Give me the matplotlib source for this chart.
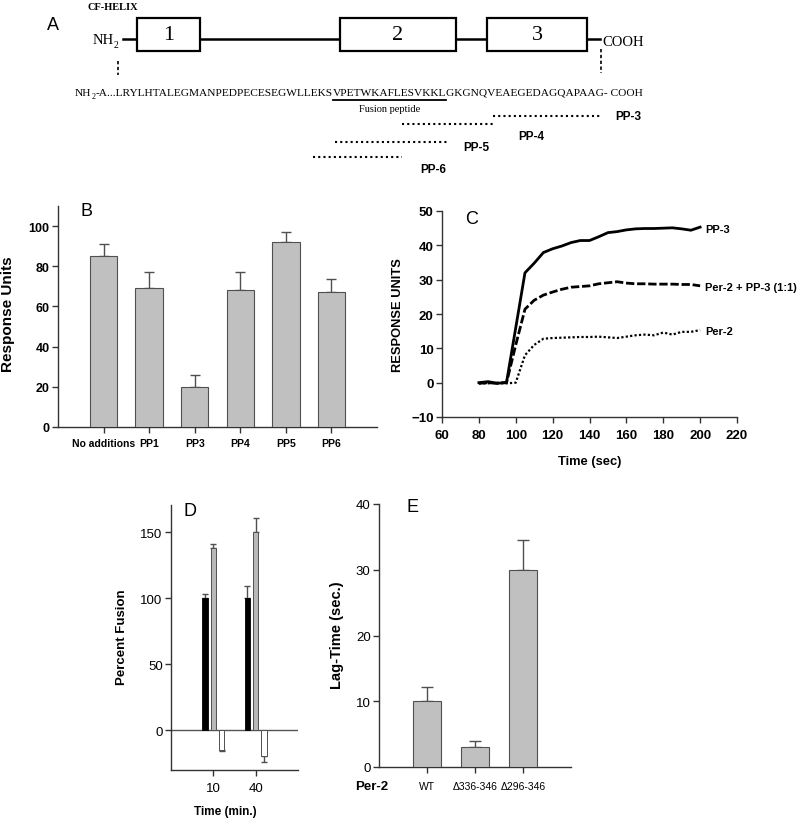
import matplotlib
matplotlib.use('Agg')
import matplotlib.pyplot as plt
from matplotlib.patches import Rectangle

plt.rcParams['font.family'] = ['Liberation Sans', 'DejaVu Sans']
SERIF = ['Liberation Serif', 'DejaVu Serif']

# ---------------- data ----------------
# Panel A (diagram)
domain_labels = ["1", "2", "3"]
pp_names = ["PP-3", "PP-4", "PP-5", "PP-6"]
seq_before = "-A...LRYLHTALEGMANPEDPECESEGWLLEKS"
seq_fusion = "VPETWKAFLESVKKL"
seq_after = "GKGNQVEAEGEDAGQAPAAG- COOH"

# Panel B
b_cats = ["No additions", "PP1", "PP3", "PP4", "PP5", "PP6"]
b_vals = [85, 69, 20, 68, 92, 67]
b_err = [6, 8, 6, 9, 5, 6.5]

# Panel C
c_time = [80, 85, 90, 95, 100, 105, 110, 115, 120, 125, 130, 135, 140, 145,
          150, 155, 160, 165, 170, 175, 180, 185, 190, 195, 200]
c_pp3 = [0, 0.3, -0.2, 0.1, 16, 32, 34.8, 37.9, 39, 39.8, 40.8, 41.4, 41.4, 42.5,
         43.7, 44, 44.5, 44.8, 44.9, 44.9, 45, 45.1, 44.8, 44.4, 45.3]
c_mix = [-0.2, 0, -0.2, 0, 11, 21.4, 24, 25.5, 26.4, 27.2, 27.8, 28, 28.2, 28.8,
         29.1, 29.4, 29, 28.8, 28.8, 28.7, 28.7, 28.7, 28.6, 28.6, 28.2]
c_per2 = [-0.2, -0.2, 0, -0.2, 0, 8, 11, 12.8, 13, 13.1, 13.2, 13.3, 13.3, 13.4,
          13.2, 13, 13.4, 13.8, 14, 13.8, 14.6, 14, 14.8, 14.8, 15.3]
c_labels = ["PP-3", "Per-2 + PP-3 (1:1)", "Per-2"]

# Panel D
d_times = ["10", "40"]
d_black = [100, 100]
d_black_err = [3, 9]
d_grey = [138, 150]
d_grey_err = [3, 11]
d_white = [-15, -19.5]
d_white_err = [0.8, 4.5]

# Panel E
e_cats = ["WT", "\u0394336-346", "\u0394296-346"]
e_vals = [10, 3, 30]
e_err = [2.2, 1, 4.5]

# ---------------- layout helpers ----------------
W, H = 800, 820
fig = plt.figure(figsize=(W / 100, H / 100), dpi=100)


def rect(l, t, r, b):
    return [l / W, 1 - b / H, (r - l) / W, (b - t) / H]


def ftext(x, y, s, **kw):
    return fig.text(x / W, 1 - y / H, s, **kw)


AX_C = '#333333'
BAR_FC = '#c0c0c0'
BAR_EC = '#505050'


def style_axes(ax):
    for s in ['top', 'right']:
        ax.spines[s].set_visible(False)
    for s in ['left', 'bottom']:
        ax.spines[s].set_color(AX_C)
        ax.spines[s].set_linewidth(1.0)
    ax.tick_params(direction='out', length=4, width=1, color=AX_C, pad=2)


# ---------------- Panel A ----------------
axA = fig.add_axes([0, 0, 1, 1])
axA.set_xlim(0, W)
axA.set_ylim(H, 0)
axA.axis('off')

box_spans = [(137, 200), (340, 456), (487, 587)]
axA.plot([123, 600], [40, 40], color='black', lw=1.8, zorder=1)
for (x0, x1), lab in zip(box_spans, domain_labels):
    axA.add_patch(Rectangle((x0, 19), x1 - x0, 33, fc='white', ec='black', lw=1.6, zorder=2))
    axA.text((x0 + x1) / 2, 36, lab, family=SERIF, fontsize=16, ha='center', va='center', zorder=3)

axA.text(53, 25, "A", fontsize=13, ha='center', va='center')
axA.text(113, 8, "CF-HELIX", family=SERIF, weight='bold', fontsize=7.5, ha='center', va='center')
axA.text(114, 40, "NH", family=SERIF, fontsize=10.5, ha='right', va='center')
axA.text(114, 46, "2", family=SERIF, fontsize=7, ha='left', va='center')
axA.text(602, 42, "COOH", family=SERIF, fontsize=10.5, ha='left', va='center')
axA.plot([118, 118], [62, 76], color='black', lw=1.2, ls=(0, (2, 1.5)))
axA.plot([601, 601], [50, 74], color='black', lw=1.2, ls=(0, (2, 1.5)))

# sequence text built from pieces, scaled to span 75..643 px
renderer = fig.canvas.get_renderer()
pieces = [("NH", 1.0, 0), ("2", 0.7, 4), (seq_before, 1.0, 0), (seq_fusion, 1.0, 0), (seq_after, 1.0, 0)]
fs0 = 10.0
widths = []
for s, scl, dy in pieces:
    t = axA.text(0, 0, s, family=SERIF, fontsize=fs0 * scl)
    widths.append(t.get_window_extent(renderer).width)
    t.remove()
target = 643 - 75
fs = fs0 * target / sum(widths)
x = 75.0
seq_y = 93
fus_x = None
for (s, scl, dy), w in zip(pieces, widths):
    axA.text(x, seq_y + dy, s, family=SERIF, fontsize=fs * scl, ha='left', va='center')
    wpx = w * fs / fs0
    if s == seq_fusion:
        fus_x = (x, x + wpx)
    x += wpx
axA.plot([fus_x[0], fus_x[1]], [100.5, 100.5], color='black', lw=1.3)
axA.text((fus_x[0] + fus_x[1]) / 2, 109, "Fusion peptide", family=SERIF, fontsize=7.5,
         ha='center', va='center')

pp_spans = [(493, 600), (402, 495), (335, 447), (313, 402)]
pp_line_y = [117, 125, 143, 158]
pp_label_xy = [(615, 117), (518, 137), (463, 148), (420, 170)]
for name, (x0, x1), ly, (lx, lyy) in zip(pp_names, pp_spans, pp_line_y, pp_label_xy):
    axA.plot([x0, x1], [ly, ly], color='black', lw=1.5, ls=(0, (1, 1.5)))
    axA.text(lx, lyy, name, fontsize=8.5, weight='bold', ha='left', va='center')

# ---------------- Panel B ----------------
axB = fig.add_axes(rect(58, 207, 377, 428))
style_axes(axB)
xb = list(range(1, len(b_cats) + 1))
axB.errorbar(xb, b_vals, yerr=[[0] * len(b_vals), b_err], fmt='none', ecolor=BAR_EC,
             elinewidth=1, capsize=3.5, capthick=1, zorder=2)
axB.bar(xb, b_vals, width=0.6, color=BAR_FC, edgecolor=BAR_EC, linewidth=0.8, zorder=3)
axB.set_xlim(0, 7)
axB.set_ylim(0, 110)
axB.set_yticks([0, 20, 40, 60, 80, 100])
axB.set_xticks(xb)
axB.set_xticklabels(b_cats, fontsize=7.5, weight='bold')
for lab in axB.get_yticklabels():
    lab.set_fontsize(9)
    lab.set_weight('bold')
axB.tick_params(axis='x', pad=4)
ftext(86, 212, "B", fontsize=13, ha='center', va='center')
ftext(8, 314, "Response Units", fontsize=11, weight='bold', rotation=90, ha='center', va='center')

# ---------------- Panel C ----------------
axC = fig.add_axes(rect(442, 212, 737, 418))
style_axes(axC)
axC.plot(c_time, c_pp3, color='black', lw=2.0)
axC.plot(c_time, c_mix, color='black', lw=2.0, ls=(0, (3, 1)))
axC.plot(c_time, c_per2, color='black', lw=1.6, ls=(0, (1, 1)))
axC.set_xlim(60, 220)
axC.set_ylim(-10, 50)
axC.set_xticks(range(60, 221, 20))
axC.set_yticks(range(-10, 51, 10))
for lab in axC.get_xticklabels() + axC.get_yticklabels():
    lab.set_fontsize(9.5)
    lab.set_weight('bold')
axC.tick_params(axis='x', pad=5)
for lab, yy in zip(c_labels, [c_pp3[-1] - 0.5, c_mix[-1] - 0.3, c_per2[-1] - 0.3]):
    axC.text(202.6, yy, lab, fontsize=8, weight='bold', ha='left', va='center', clip_on=False)
ftext(472, 219, "C", fontsize=13, ha='center', va='center')
ftext(398, 315, "RESPONSE UNITS", fontsize=9.3, weight='bold', rotation=90, ha='center', va='center')
ftext(590, 462, "Time (sec)", fontsize=9.3, weight='bold', ha='center', va='center')

# ---------------- Panel D ----------------
axD = fig.add_axes(rect(171, 506, 298, 771))
style_axes(axD)
xd = [1, 2]
off = 0.195
bw = 0.13
axD.axhline(0, color='#555555', lw=1, zorder=1)
xs_black = [v - off for v in xd]
xs_white = [v + off for v in xd]
axD.errorbar(xs_black, d_black, yerr=[[0, 0], d_black_err], fmt='none', ecolor=BAR_EC,
             elinewidth=1, capsize=2.5, capthick=1, zorder=2)
axD.errorbar(xd, d_grey, yerr=[[0, 0], d_grey_err], fmt='none', ecolor=BAR_EC,
             elinewidth=1, capsize=2.5, capthick=1, zorder=2)
axD.errorbar(xs_white, d_white, yerr=[d_white_err, [0, 0]], fmt='none', ecolor=BAR_EC,
             elinewidth=1, capsize=2.5, capthick=1, zorder=2)
axD.bar(xs_black, d_black, width=bw, color='black', edgecolor='black', linewidth=0.6, zorder=3)
axD.bar(xd, d_grey, width=bw, color='#b8b8b8', edgecolor=BAR_EC, linewidth=0.7, zorder=3)
axD.bar(xs_white, d_white, width=bw, color='white', edgecolor=BAR_EC, linewidth=0.7, zorder=3)
axD.set_xlim(0, 3)
axD.set_ylim(-30.3, 170.5)
axD.set_yticks([0, 50, 100, 150])
axD.set_xticks(xd)
axD.set_xticklabels(d_times, fontsize=9.5)
for lab in axD.get_yticklabels():
    lab.set_fontsize(9.5)
axD.tick_params(axis='x', pad=5)
ftext(190, 512, "D", fontsize=13, ha='center', va='center')
ftext(122, 637, "Percent Fusion", fontsize=9.5, weight='bold', rotation=90, ha='center', va='center')
ftext(225, 812, "Time (min.)", fontsize=8.5, weight='bold', ha='center', va='center')

# ---------------- Panel E ----------------
axE = fig.add_axes(rect(379, 505, 571, 768))
style_axes(axE)
xe = [1, 2, 3]
axE.errorbar(xe, e_vals, yerr=[[0, 0, 0], e_err], fmt='none', ecolor=BAR_EC,
             elinewidth=1, capsize=4, capthick=1, zorder=2)
axE.bar(xe, e_vals, width=0.6, color=BAR_FC, edgecolor=BAR_EC, linewidth=0.8, zorder=3)
axE.set_xlim(0, 4)
axE.set_ylim(0, 40)
axE.set_yticks([0, 10, 20, 30, 40])
axE.set_xticks(xe)
axE.set_xticklabels(e_cats, fontsize=7.5)
for lab in axE.get_yticklabels():
    lab.set_fontsize(9.5)
axE.tick_params(axis='x', pad=6)
ftext(412, 508, "E", fontsize=13, ha='center', va='center')
ftext(337, 635, "Lag-Time (sec.)", fontsize=10.5, weight='bold', rotation=90, ha='center', va='center')
ftext(372, 787, "Per-2", fontsize=9.5, weight='bold', ha='center', va='center')

fig.savefig('out.png', dpi=100)
